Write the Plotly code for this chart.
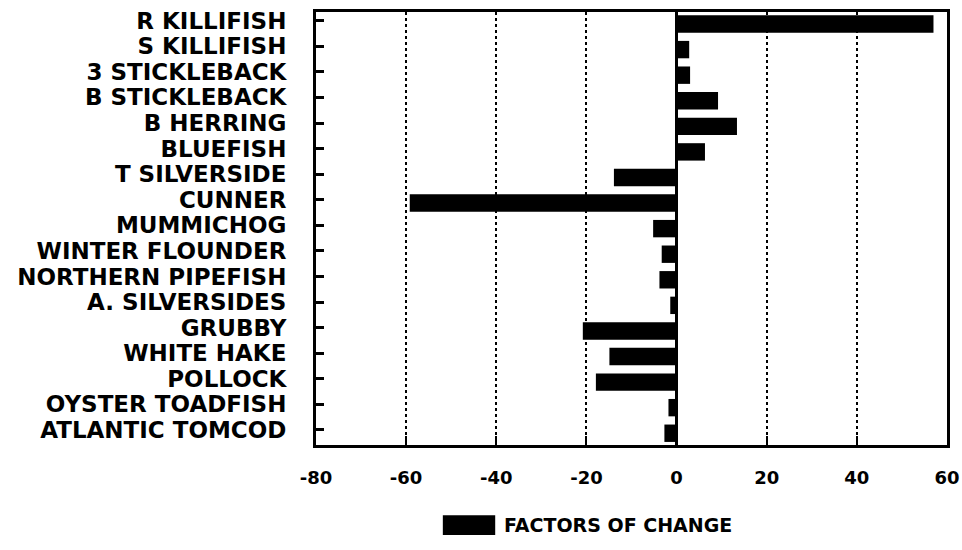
import plotly.graph_objects as go

# species, top to bottom as drawn
SPECIES = [
    'R KILLIFISH', 'S KILLIFISH', '3 STICKLEBACK', 'B STICKLEBACK', 'B HERRING',
    'BLUEFISH', 'T SILVERSIDE', 'CUNNER', 'MUMMICHOG', 'WINTER FLOUNDER',
    'NORTHERN PIPEFISH', 'A. SILVERSIDES', 'GRUBBY', 'WHITE HAKE', 'POLLOCK',
    'OYSTER TOADFISH', 'ATLANTIC TOMCOD',
]
FACTORS = [57.0, 2.8, 3.0, 9.2, 13.4, 6.3, -13.9, -59.2, -5.2, -3.3,
           -3.8, -1.4, -20.8, -14.9, -17.9, -1.8, -2.7]
X_TICKS = [-80, -60, -40, -20, 0, 20, 40, 60]
SERIES = 'FACTORS OF CHANGE'

INK = '#000000'
FONT = 'DejaVu Sans'

fig = go.Figure()
fig.add_trace(go.Bar(
    y=SPECIES, x=FACTORS, orientation='h', name=SERIES,
    marker=dict(color=INK, line=dict(width=0)),
    width=0.68, offset=-0.21, showlegend=False,
))

# legend key drawn by hand: the original has a wide solid swatch
fig.add_shape(type='rect', xref='paper', yref='paper',
              x0=0.201, x1=0.284, y0=-0.162, y1=-0.208,
              fillcolor=INK, line=dict(width=0))
fig.add_annotation(text=SERIES, xref='paper', yref='paper',
                   x=0.295, y=-0.185, xanchor='left', yanchor='middle',
                   showarrow=False,
                   font=dict(family=FONT, size=19, color=INK, weight='bold'))

fig.update_layout(
    width=962, height=550,
    paper_bgcolor='white', plot_bgcolor='white',
    font=dict(family=FONT, size=19, color=INK, weight='bold'),
    margin=dict(l=316, r=15, t=12, b=105),
)

fig.update_xaxes(
    range=[-80, 60], tickvals=X_TICKS, ticktext=[str(v) for v in X_TICKS],
    showgrid=True, gridcolor=INK, gridwidth=2, griddash='dot',
    zeroline=True, zerolinecolor=INK, zerolinewidth=3,
    showline=True, linecolor=INK, linewidth=3, mirror=True,
    ticks='inside', ticklen=9, tickwidth=2, tickcolor=INK,
    tickfont=dict(family=FONT, size=18, color=INK, weight='bold'),
    ticklabelstandoff=14, automargin=False,
)
fig.update_yaxes(
    categoryorder='array', categoryarray=SPECIES,
    tickmode='linear', dtick=1,
    range=[16.59, -0.34],
    showgrid=False, zeroline=False,
    showline=True, linecolor=INK, linewidth=3, mirror=True,
    ticks='inside', ticklen=8, tickwidth=3, tickcolor=INK,
    tickfont=dict(family=FONT, size=23, color=INK, weight='bold'),
    ticklabelstandoff=22, automargin=False,
)

# the page's default body margin would shift the figure by 8px
fig.write_html('out.html', config={'displayModeBar': False},
               post_script="document.body.style.margin='0';")
